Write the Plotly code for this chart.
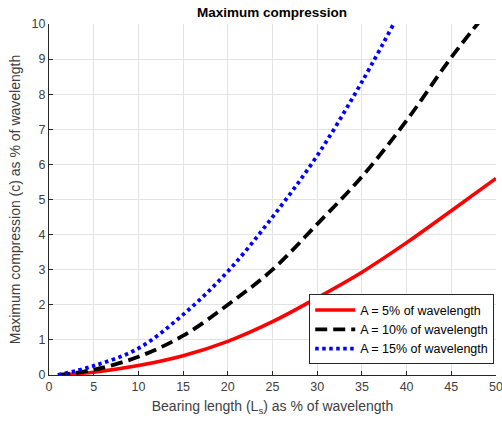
import plotly.graph_objects as go

bearing = [1, 5, 10, 15, 20, 25, 30, 35, 40, 45, 50]
comp_5 = [0.0, 0.08, 0.27, 0.55, 0.96, 1.52, 2.2, 2.93, 3.77, 4.68, 5.6]
comp_10 = [0.0, 0.15, 0.52, 1.12, 2.0, 3.0, 4.3, 5.65, 7.25, 9.05, 10.65]
bearing_15 = [1, 5, 10, 15, 20, 25, 30, 35, 40]
comp_15 = [0.0, 0.26, 0.76, 1.72, 2.95, 4.5, 6.25, 8.35, 10.7]

names = ["A = 5% of wavelength", "A = 10% of wavelength", "A = 15% of wavelength"]

font = "Liberation Sans, Arial, sans-serif"

fig = go.Figure()
fig.add_trace(go.Scatter(x=bearing, y=comp_5, mode="lines", name=names[0],
                         line=dict(color="#ff0000", width=3.5, shape="spline")))
fig.add_trace(go.Scatter(x=bearing, y=comp_10, mode="lines", name=names[1],
                         line=dict(color="#000000", width=3.8, dash="12px,6px", shape="spline")))
fig.add_trace(go.Scatter(x=bearing_15, y=comp_15, mode="lines", name=names[2],
                         line=dict(color="#0000ff", width=3.8, dash="3.5px,3.5px", shape="spline")))

fig.update_layout(
    width=502, height=425,
    margin=dict(l=49, r=6, t=24, b=50, autoexpand=False),
    paper_bgcolor="white", plot_bgcolor="white",
    font=dict(family=font, color="#262626"),
    title=dict(text="<b>Maximum compression</b>", x=0.542, xanchor="center",
               y=0.972, yanchor="middle", font=dict(size=13.5, color="#000000")),
    showlegend=True,
    legend=dict(x=0.996, xanchor="right", y=0.03, yanchor="bottom",
                bgcolor="white", bordercolor="#262626", borderwidth=1,
                font=dict(size=12.5, color="#000000"),
                itemwidth=40, tracegroupgap=0),
    xaxis=dict(range=[0, 50], tickvals=list(range(0, 51, 5)),
               showgrid=True, gridcolor="#e3e3e3", gridwidth=1,
               showline=True, linecolor="#262626", linewidth=1,
               ticks="inside", ticklen=4, tickcolor="#262626",
               ticklabeloverflow="allow", automargin=False,
               tickfont=dict(size=12.5, color="#404040"), zeroline=False,
               title=dict(text="Bearing length (L<sub>s</sub>) as % of wavelength",
                          font=dict(size=14, color="#404040"), standoff=8)),
    yaxis=dict(range=[0, 10], tickvals=list(range(0, 11)),
               showgrid=True, gridcolor="#e3e3e3", gridwidth=1,
               showline=True, linecolor="#262626", linewidth=1,
               ticks="inside", ticklen=4, tickcolor="#262626",
               automargin=False,
               tickfont=dict(size=12.5, color="#404040"), zeroline=False,
               title=dict(text="Maximum compression (c) as % of wavelength",
                          font=dict(size=14, color="#404040"), standoff=7)),
)

fig.write_html("out.html")
